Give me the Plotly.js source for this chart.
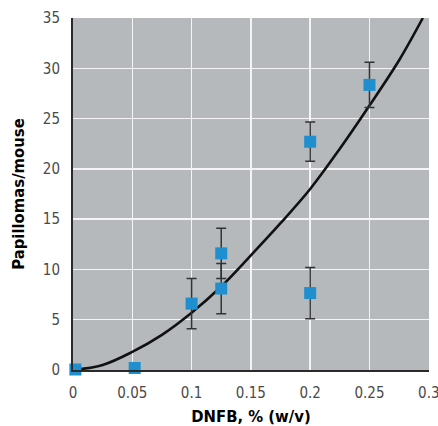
<!DOCTYPE html>
<html>
<head>
<meta charset="utf-8">
<script src="https://cdn.plot.ly/plotly-3.0.1.min.js"></script>
<style>
  html, body { margin: 0; padding: 0; background: #ffffff; }
  #chart { width: 438px; height: 426px; }
</style>
</head>
<body>
<div id="chart"></div>
<script>
// Measured points (DNFB concentration vs papillomas per mouse)
var doseX = [0.002, 0.052, 0.1, 0.125, 0.125, 0.2, 0.2, 0.25];
var papillomasY = [0.05, 0.2, 6.6, 11.6, 8.1, 22.7, 7.65, 28.35];
var errorY = [0, 0, 2.5, 2.5, 2.5, 1.95, 2.55, 2.25];

// Fitted curve
var curveX = [0, 0.025, 0.05, 0.075, 0.1, 0.125, 0.15, 0.175, 0.2, 0.225, 0.25, 0.275, 0.295];
var curveY = [0, 0.5, 1.8, 3.5, 5.7, 8.3, 11.4, 14.6, 18.0, 22.0, 26.3, 30.8, 35.0];

var xTickVals = [0, 0.05, 0.1, 0.15, 0.2, 0.25, 0.3];
var xTickText = ['0', '0.05', '0.1', '0.15', '0.2', '0.25', '0.3'];
var yTickVals = [0, 5, 10, 15, 20, 25, 30, 35];
var yTickText = ['0', '5', '10', '15', '20', '25', '30', '35'];

var xTitle = 'DNFB, % (w/v)';
var yTitle = 'Papillomas/mouse';

var tickFont = { family: 'Liberation Sans Narrow, DejaVu Sans Condensed, Arial Narrow, sans-serif', size: 15, color: '#4a4a4a' };
var titleFont = { family: 'DejaVu Sans Condensed, Liberation Sans, Arial, sans-serif', size: 16.5, color: '#000000', weight: 'bold' };

var traces = [
  {
    x: curveX, y: curveY,
    type: 'scatter', mode: 'lines',
    line: { color: '#111111', width: 2.6, shape: 'spline' },
    hoverinfo: 'skip', showlegend: false
  },
  {
    x: doseX, y: papillomasY,
    type: 'scatter', mode: 'markers',
    marker: { symbol: 'square', size: 12, color: '#1f8fd0' },
    error_y: { type: 'data', array: errorY, visible: true, color: '#333333', thickness: 1.5, width: 5 },
    cliponaxis: false, showlegend: false
  }
];

var layout = {
  width: 438, height: 426,
  margin: { l: 73, r: 9, t: 18, b: 56, pad: 0 },
  paper_bgcolor: '#ffffff',
  plot_bgcolor: '#b5b9bb',
  showlegend: false,
  xaxis: {
    range: [0, 0.3002],
    tickvals: xTickVals, ticktext: xTickText,
    showgrid: true, gridcolor: '#f4f4f4', gridwidth: 1.5,
    zeroline: false,
    showline: true, linecolor: '#2a2a2a', linewidth: 1.5,
    ticks: '', ticklabelstandoff: 8,
    ticklabeloverflow: 'allow',
    tickfont: tickFont,
    title: { text: xTitle, font: titleFont, standoff: 12 },
    automargin: false, fixedrange: true
  },
  yaxis: {
    range: [0, 35],
    tickvals: yTickVals, ticktext: yTickText,
    showgrid: true, gridcolor: '#f4f4f4', gridwidth: 1.5,
    zeroline: false,
    showline: true, linecolor: '#2a2a2a', linewidth: 2,
    ticks: '', ticklabelstandoff: 8,
    ticklabeloverflow: 'allow',
    tickfont: tickFont,
    title: { text: yTitle, font: titleFont, standoff: 14 },
    automargin: false, fixedrange: true
  }
};

Plotly.newPlot('chart', traces, layout, { displayModeBar: false, staticPlot: true });
</script>
</body>
</html>
